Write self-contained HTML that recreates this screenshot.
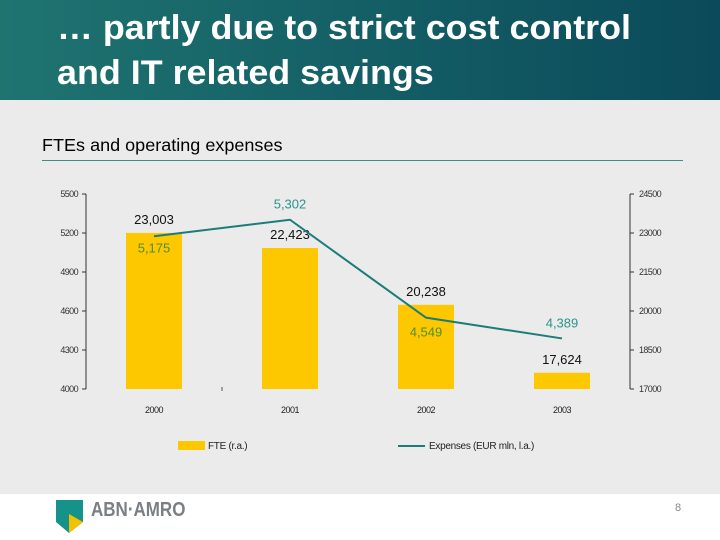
<!DOCTYPE html>
<html><head><meta charset="utf-8"><style>
body{margin:0;width:720px;height:540px;overflow:hidden;font-family:"Liberation Sans",sans-serif;background:#fff;position:relative}
#hdr{position:absolute;left:0;top:0;width:720px;height:100px;background:linear-gradient(90deg,#1f7470 0%,#145f66 50%,#0b4a5a 100%)}
#hdr div{position:absolute;left:57px;color:#fff;font-weight:bold;font-size:34px;line-height:34px;white-space:nowrap;transform:scaleX(1.055);transform-origin:left}
#body{position:absolute;left:0;top:100px;width:720px;height:394px;background:#ebebeb}
</style></head><body>
<div id="hdr">
<div style="top:11px">… partly due to strict cost control</div>
<div style="top:56px">and IT related savings</div>
</div>
<div id="body"></div>
<div style="position:absolute;left:42px;top:135px;font-size:17.5px;color:#000;transform:scaleX(1.03);transform-origin:left">FTEs and operating expenses</div>
<div style="position:absolute;left:42px;top:160px;width:641px;height:1px;background:#3f8d86"></div>
<svg id="chart" width="720" height="540" style="position:absolute;left:0;top:0"></svg>
<svg style="position:absolute;left:56px;top:500px" width="28" height="34">
<polygon points="0,0 27,0 27,22 13,33 0,22" fill="#15928a"/><polygon points="13,14 27,22 13,33" fill="#f2c200"/></svg>
<div style="position:absolute;left:91px;top:499px;font-size:20px;font-weight:bold;color:#7a7f83;transform:scaleX(0.85);transform-origin:left">ABN·AMRO</div>
<div style="position:absolute;left:675px;top:502px;font-size:11px;color:#888">8</div>
<script>
const categories=["2000","2001","2002","2003"];
const fte=[23003,22423,20238,17624];
const expenses=[5175,5302,4549,4389];
const fteLabels=["23,003","22,423","20,238","17,624"];
const expLabels=["5,175","5,302","4,549","4,389"];
const leftTicks=[4000,4300,4600,4900,5200,5500];
const rightTicks=[17000,18500,20000,21500,23000,24500];
const NS="http://www.w3.org/2000/svg";
const svg=document.getElementById('chart');
const x0=86,x1=630,yTop=194,yBot=389;
const yL=v=>yBot-(v-4000)/1500*(yBot-yTop);
const yR=v=>yBot-(v-17000)/7500*(yBot-yTop);
const bw=(x1-x0)/categories.length;
const xc=i=>x0+bw*(i+0.5);
function mk(t,a,txt){const e=document.createElementNS(NS,t);for(const k in a)e.setAttribute(k,a[k]);if(txt!=null)e.textContent=txt;svg.appendChild(e);return e;}
let e;
e=mk('line',{x1:x0,y1:yTop,x2:x0,y2:yBot,stroke:'#333'});


e=mk('line',{x1:x1,y1:yTop,x2:x1,y2:yBot,stroke:'#333'});


leftTicks.forEach(v=>{
 mk('line',{x1:x0-4,y1:yL(v),x2:x0,y2:yL(v),stroke:'#333'});
 e=mk('text',{x:x0-8,y:yL(v)+3,'font-size':9,'text-anchor':'end',fill:'#333','letter-spacing':'-0.6'},String(v));
 
 
});
rightTicks.forEach(v=>{
 mk('line',{x1:x1,y1:yR(v),x2:x1+4,y2:yR(v),stroke:'#333'});
 e=mk('text',{x:x1+9,y:yR(v)+3,'font-size':9,fill:'#333','letter-spacing':'-0.6'},String(v));
 
 
});
categories.forEach((c,i)=>{
 e=mk('rect',{x:xc(i)-28,y:yR(fte[i]),width:56,height:yBot-yR(fte[i]),fill:'#fdc800'});
 
 
 e=mk('text',{x:xc(i),y:yR(fte[i])-9,'font-size':13,'text-anchor':'middle',fill:'#111'},fteLabels[i]);
 
 
 e=mk('text',{x:xc(i),y:413,'font-size':9,'text-anchor':'middle',fill:'#222','letter-spacing':'-0.5'},c);
 
 
});
mk('line',{x1:222,y1:387,x2:222,y2:391,stroke:'#555'});
e=mk('polyline',{points:expenses.map((v,i)=>xc(i)+','+yL(v)).join(' '),fill:'none',stroke:'#1b7c78','stroke-width':2});


const off=[[0,16,'#4f8f2c'],[0,-11,'#2a938c'],[0,19,'#4f8f2c'],[0,-11,'#2a938c']];
expenses.forEach((v,i)=>{
 e=mk('text',{x:xc(i)+off[i][0],y:yL(v)+off[i][1],'font-size':13,'text-anchor':'middle',fill:off[i][2]},expLabels[i]);
 
 
});
e=mk('rect',{x:178,y:441,width:27,height:9,fill:'#fdc800'});


e=mk('text',{x:208,y:449,'font-size':10,fill:'#222','letter-spacing':'-0.3'},'FTE (r.a.)');


e=mk('line',{x1:398,y1:446,x2:425,y2:446,stroke:'#1b7c78','stroke-width':2});


e=mk('text',{x:429,y:449,'font-size':10,fill:'#222','letter-spacing':'-0.3'},'Expenses (EUR mln, l.a.)');


</script>
</body></html>
